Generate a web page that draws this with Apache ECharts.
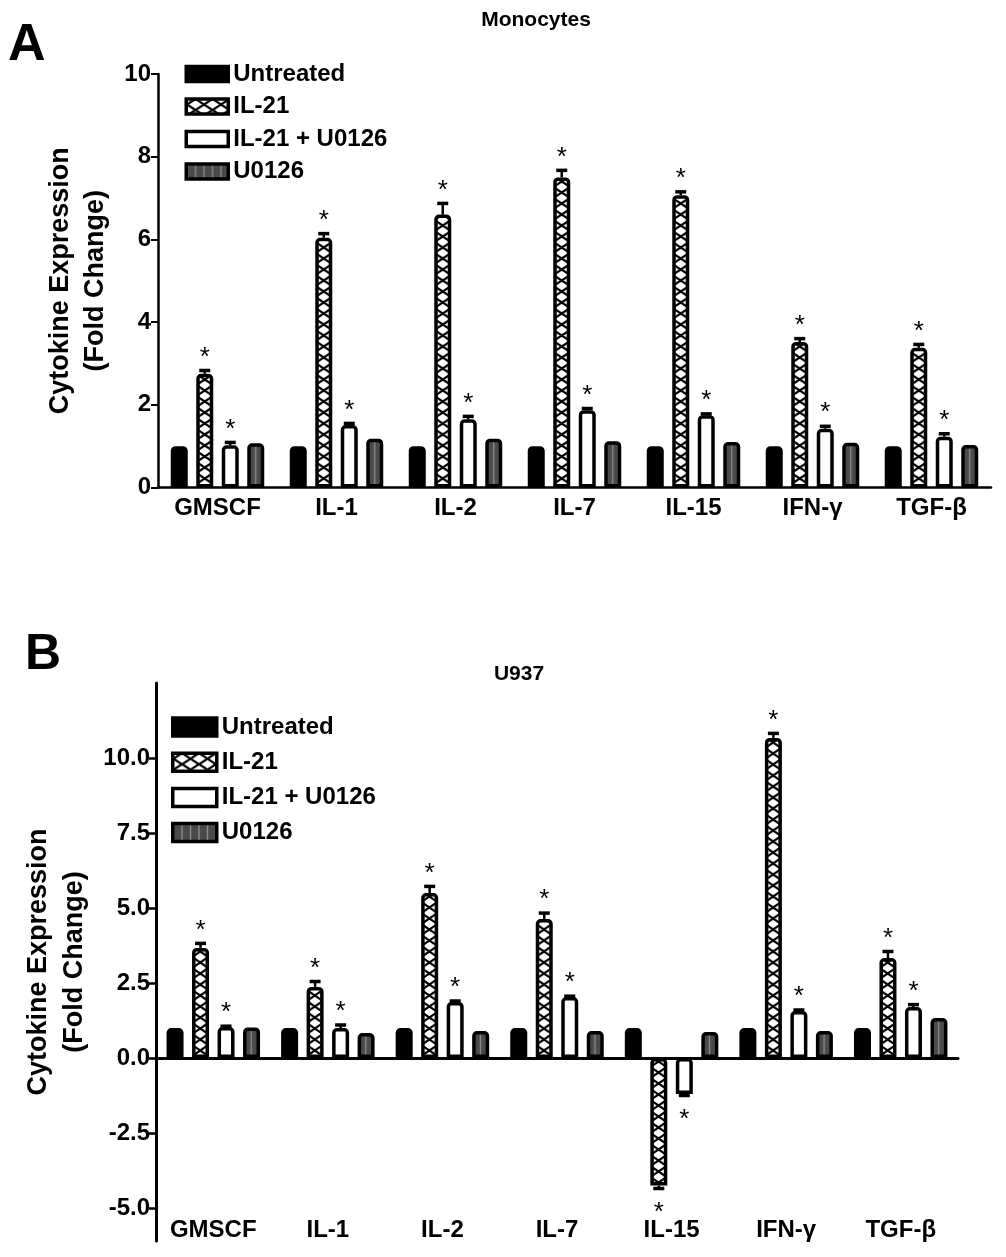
<!DOCTYPE html>
<html><head><meta charset="utf-8">
<script src="https://cdn.jsdelivr.net/npm/echarts@6/dist/echarts.min.js"></script>
<style>html,body{margin:0;padding:0;background:#fff}#c{width:1006px;height:1257px}</style>
</head><body><div id="c"></div>
<script>
// ---------- data ----------
const categories = ['GMSCF', 'IL-1', 'IL-2', 'IL-7', 'IL-15', 'IFN-γ', 'TGF-β'];
const seriesNames = ['Untreated', 'IL-21', 'IL-21 + U0126', 'U0126'];

// Panel A: Monocytes
const monoUntreated    = [1.00, 1.00, 1.00, 1.00, 1.00, 1.00, 1.00];
const monoIL21         = [2.75, 6.04, 6.60, 7.50, 7.07, 3.52, 3.38];
const monoIL21Err      = [0.08, 0.10, 0.27, 0.17, 0.08, 0.08, 0.08];
const monoIL21Sig      = [1, 1, 1, 1, 1, 1, 1];
const monoIL21U0126    = [1.02, 1.51, 1.65, 1.87, 1.75, 1.42, 1.23];
const monoIL21U0126Err = [0.07, 0.04, 0.07, 0.04, 0.03, 0.06, 0.07];
const monoIL21U0126Sig = [1, 1, 1, 1, 1, 1, 1];
const monoU0126        = [1.07, 1.18, 1.18, 1.12, 1.10, 1.08, 1.03];

// Panel B: U937
const u937Untreated    = [1.00, 1.00, 1.00, 1.00, 1.00, 1.00, 1.00];
const u937IL21         = [3.67, 2.37, 5.50, 4.63, -4.25, 10.67, 3.33];
const u937IL21Err      = [0.15, 0.18, 0.22, 0.20, 0.10, 0.15, 0.22];
const u937IL21Sig      = [1, 1, 1, 1, 1, 1, 1];
const u937IL21U0126    = [1.03, 1.00, 1.87, 2.03, -1.20, 1.57, 1.70];
const u937IL21U0126Err = [0.03, 0.10, 0.03, 0.03, 0.05, 0.03, 0.08];
const u937IL21U0126Sig = [1, 1, 1, 1, 1, 1, 1];
const u937U0126        = [1.02, 0.83, 0.90, 0.90, 0.87, 0.90, 1.33];

const monoTicks = [0, 2, 4, 6, 8, 10];
const u937Ticks = [-5, -2.5, 0, 2.5, 5, 7.5, 10];

// ---------- layout / style ----------
const FONT = '"Liberation Sans", Arial, sans-serif';
const BAR_W = 17, BAR_GAP = 0.5, STEP = BAR_W * (1 + BAR_GAP);
const gA = {left: 158, top: 74, width: 833, height: 413.5};
const gB = {left: 156, top: 683, width: 802, height: 558};

function crossCanvas() {
  const c = document.createElement('canvas'); c.width = 17; c.height = 11;
  const g = c.getContext('2d');
  g.fillStyle = '#fff'; g.fillRect(0, 0, 17, 11);
  g.strokeStyle = '#000'; g.lineWidth = 2.3; g.beginPath();
  g.moveTo(-3.4, -2.2); g.lineTo(20.4, 13.2);
  g.moveTo(20.4, -2.2); g.lineTo(-3.4, 13.2);
  g.stroke(); return c;
}
function stripeCanvas() {
  const c = document.createElement('canvas'); c.width = 17; c.height = 4;
  const g = c.getContext('2d');
  g.fillStyle = '#4a4a4a'; g.fillRect(0, 0, 17, 4);
  g.fillStyle = '#8e8e8e'; g.fillRect(7.8, 0, 1.4, 4); g.fillRect(0, 0, 0.7, 4); g.fillRect(16.3, 0, 0.7, 4);
  return c;
}
const crossImg = crossCanvas(), stripeImg = stripeCanvas();
function pattern(img, grid, seriesPos) {
  const band = grid.width / categories.length;
  const period = band / 7;
  const left = grid.left + band / 2 + (seriesPos - 1.5) * STEP - BAR_W / 2;
  const off = left - Math.floor(left / period) * period;
  return {image: img, repeat: 'repeat', x: off, y: 0, scaleX: period / 17, scaleY: 1};
}

function barSeries(name, data, pos, grid, gi, fill) {
  return {
    type: 'bar', name: name, data: data, xAxisIndex: gi === 0 ? 0 : 1, yAxisIndex: gi,
    barWidth: BAR_W, barGap: (BAR_GAP * 100) + '%',
    itemStyle: {color: fill, borderColor: '#000', borderWidth: 3.5, borderRadius: [3, 3, 0, 0]},
    emphasis: {disabled: true}, z: 2
  };
}
function errRender(pos) {
  return function (params, api) {
    const ci = api.value(0), v = api.value(1), e = api.value(2), s = api.value(3);
    const sign = v >= 0 ? 1 : -1;
    const p0 = api.coord([ci, v]);
    const p1 = api.coord([ci, v + sign * e]);
    const x = p0[0] + (pos - 1.5) * STEP;
    const ch = [];
    if (e > 0) {
      ch.push({type: 'line', shape: {x1: x, y1: p0[1], x2: x, y2: p1[1]}, style: {stroke: '#000', lineWidth: 2.5}});
      ch.push({type: 'line', shape: {x1: x - 5.5, y1: p1[1], x2: x + 5.5, y2: p1[1]}, style: {stroke: '#000', lineWidth: 3.5}});
    }
    if (s) {
      ch.push({type: 'text', style: {text: '*', x: x, y: p1[1] - sign * (sign > 0 ? 13 : 24), align: 'center',
        verticalAlign: 'middle', font: '26px ' + FONT, fill: '#000'}});
    }
    return {type: 'group', children: ch};
  };
}
function errSeries(vals, errs, sigs, pos, gi) {
  return {
    type: 'custom', xAxisIndex: gi === 0 ? 0 : 1, yAxisIndex: gi, clip: false, z: 5, silent: true,
    data: vals.map((v, i) => [i, v, errs[i], sigs[i]]),
    encode: {x: 0, y: 1}, renderItem: errRender(pos)
  };
}

const labelStyle = {color: '#000', fontFamily: FONT, fontWeight: 'bold', fontSize: 24};
const nameStyle = {color: '#000', fontFamily: FONT, fontWeight: 'bold', fontSize: 27, lineHeight: 35};
const legendText = {color: '#000', fontFamily: FONT, fontWeight: 'bold', fontSize: 24, lineHeight: 22};

const option = {
  animation: false,
  backgroundColor: '#fff',
  grid: [
    Object.assign({containLabel: false}, gA),
    Object.assign({containLabel: false}, gB)
  ],
  xAxis: [
    {type: 'category', gridIndex: 0, data: categories,
      axisLine: {lineStyle: {color: '#000', width: 2.5}},
      axisTick: {alignWithLabel: true, length: 7, lineStyle: {color: '#000', width: 2}},
      axisLabel: Object.assign({margin: 9, interval: 0}, labelStyle)},
    {type: 'category', gridIndex: 1, data: categories,
      axisLine: {onZero: true, lineStyle: {color: '#000', width: 3}},
      axisTick: {alignWithLabel: true, length: 7, lineStyle: {color: '#000', width: 2}},
      axisLabel: {show: false}},
    {type: 'category', gridIndex: 1, data: categories, position: 'bottom', offset: -23,
      axisLine: {show: false, onZero: false}, axisTick: {show: false},
      axisLabel: Object.assign({margin: 0, interval: 0}, labelStyle)}
  ],
  yAxis: [
    {type: 'value', gridIndex: 0, min: 0, max: 10, interval: 2,
      name: 'Cytokine Expression\n(Fold Change)', nameLocation: 'middle', nameGap: 40,
      nameTextStyle: nameStyle,
      axisLine: {show: true, lineStyle: {color: '#000', width: 2.5}},
      axisTick: {show: true, length: 7, lineStyle: {color: '#000', width: 2}},
      axisLabel: Object.assign({margin: 7, formatter: v => String(v)}, labelStyle),
      splitLine: {show: false}},
    {type: 'value', gridIndex: 1, min: -6.1, max: 12.5,
      name: 'Cytokine Expression\n(Fold Change)', nameLocation: 'middle', nameGap: 54,
      nameTextStyle: Object.assign({}, nameStyle, {lineHeight: 36}),
      axisLine: {show: true, onZero: false, lineStyle: {color: '#000', width: 3}},
      axisTick: {show: true, length: 7, customValues: u937Ticks, lineStyle: {color: '#000', width: 2.5}},
      axisLabel: Object.assign({margin: 6, customValues: u937Ticks, formatter: v => v.toFixed(1)}, labelStyle),
      splitLine: {show: false}}
  ],
  legend: [
    {orient: 'vertical', left: 179.5, top: 57, padding: 5, itemWidth: 42, itemHeight: 15, itemGap: 8.5, icon: 'rect',
      data: seriesNames, selectedMode: false,
      itemStyle: {borderColor: '#000', borderWidth: 3.5},
      textStyle: legendText},
    {orient: 'vertical', left: 166, top: 710, padding: 5, itemWidth: 44, itemHeight: 18, itemGap: 11.2, icon: 'rect',
      data: seriesNames, selectedMode: false,
      itemStyle: {borderColor: '#000', borderWidth: 3.5},
      textStyle: legendText}
  ],
  graphic: [
    {type: 'text', left: 8, top: 20, style: {text: 'A', font: 'bold 52px ' + FONT, fill: '#000'}},
    {type: 'text', left: 25, top: 630, style: {text: 'B', font: 'bold 50px ' + FONT, fill: '#000'}},
    {type: 'text', x: 536, y: 20, style: {text: 'Monocytes', font: 'bold 21px ' + FONT, fill: '#000', align: 'center', verticalAlign: 'middle'}},
    {type: 'text', x: 519, y: 674, style: {text: 'U937', font: 'bold 21px ' + FONT, fill: '#000', align: 'center', verticalAlign: 'middle'}}
  ],
  series: [
    barSeries('Untreated', monoUntreated, 0, gA, 0, '#000'),
    barSeries('IL-21', monoIL21, 1, gA, 0, pattern(crossImg, gA, 1)),
    barSeries('IL-21 + U0126', monoIL21U0126, 2, gA, 0, '#fff'),
    barSeries('U0126', monoU0126, 3, gA, 0, pattern(stripeImg, gA, 3)),
    errSeries(monoIL21, monoIL21Err, monoIL21Sig, 1, 0),
    errSeries(monoIL21U0126, monoIL21U0126Err, monoIL21U0126Sig, 2, 0),

    barSeries('Untreated', u937Untreated, 0, gB, 1, '#000'),
    barSeries('IL-21', u937IL21, 1, gB, 1, pattern(crossImg, gB, 1)),
    barSeries('IL-21 + U0126', u937IL21U0126, 2, gB, 1, '#fff'),
    barSeries('U0126', u937U0126, 3, gB, 1, pattern(stripeImg, gB, 3)),
    errSeries(u937IL21, u937IL21Err, u937IL21Sig, 1, 1),
    errSeries(u937IL21U0126, u937IL21U0126Err, u937IL21U0126Sig, 2, 1)
  ]
};
const chart = echarts.init(document.getElementById('c'), null, {renderer: 'canvas'});
chart.setOption(option);
</script></body></html>
